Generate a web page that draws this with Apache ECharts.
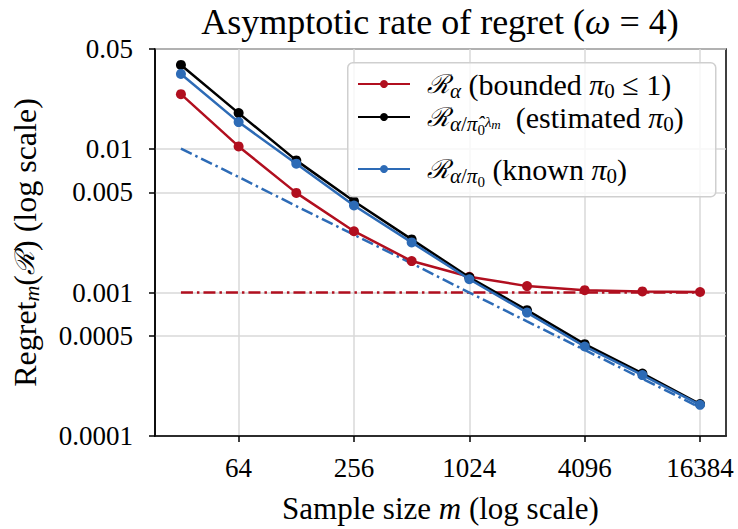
<!DOCTYPE html>
<html>
<head>
<meta charset="utf-8">
<script src="https://cdn.jsdelivr.net/npm/echarts@6/dist/echarts.min.js"></script>
<style>html,body{margin:0;padding:0;background:#fff}#c{width:738px;height:529px}</style>
</head>
<body>
<div id="c"></div>
<script>
// ---- data ----
const sampleSizes = [32, 64, 128, 256, 512, 1024, 2048, 4096, 8192, 16384];
const regretBounded   = [0.0242, 0.01046, 0.00496, 0.00268, 0.00166, 0.00129, 0.00111, 0.00104, 0.00102, 0.00101];
const regretEstimated = [0.0387, 0.01786, 0.00836, 0.00434, 0.00235, 0.00128, 0.000754, 0.000437, 0.000273, 0.000167];
const regretKnown     = [0.0335, 0.01546, 0.00793, 0.00405, 0.00224, 0.00124, 0.000726, 0.000421, 0.000266, 0.000165];
const refBounded      = [0.001, 0.001, 0.001, 0.001, 0.001, 0.001, 0.001, 0.001, 0.001, 0.001];
const refKnown        = [0.0101, 0.0064, 0.00401, 0.00253, 0.0016, 0.001, 0.00063, 0.000398, 0.000251, 0.000158];
const xTickValues = [64, 256, 1024, 4096, 16384];
const yTickValues = [0.0001, 0.0005, 0.001, 0.005, 0.01, 0.05];
const yTickLabels = ['0.0001', '0.0005', '0.001', '0.005', '0.01', '0.05'];
const seriesNames = ['bounded', 'estimated', 'known'];

const RED = '#b10f1f', BLUE = '#2d6bb6', BLACK = '#000000';
const F = "'Liberation Serif', 'DejaVu Serif', serif";
const pairs = ys => sampleSizes.map((m, i) => [m, ys[i]]);

const rich = {
  t:   {fontFamily: F, fontSize: 30, color: '#000'},
  R:   {fontFamily: "'DejaVu Serif', serif", fontSize: 26, fontStyle: 'italic', color: '#000'},
  it:  {fontFamily: F, fontSize: 30, fontStyle: 'italic', color: '#000'},
  sub: {fontFamily: F, fontSize: 21, fontStyle: 'italic', color: '#000', padding: [13, 0, 0, 0]},
  subr:{fontFamily: F, fontSize: 21, color: '#000', padding: [13, 0, 0, 0]},
  ss:  {fontFamily: F, fontSize: 15, color: '#000', padding: [26, 0, 0, 0]},
  sup: {fontFamily: F, fontSize: 15, fontStyle: 'italic', color: '#000', padding: [9, 0, 0, 0]},
  supm:{fontFamily: F, fontSize: 13, fontStyle: 'italic', color: '#000', padding: [15, 0, 0, 0]},
  gap: {width: 12}
};
const legendText = {
  bounded:   '{gap|}{R|ℛ}{sub|α}{t| (bounded }{it|π}{subr|0}{t| ≤ 1)}',
  estimated: '{gap|}{R|ℛ}{sub|α}{subr|/}{sub|π̂}{ss|0}{sup|λ}{supm|m}{t|  (estimated }{it|π}{subr|0}{t|)}',
  known:     '{gap|}{R|ℛ}{sub|α}{subr|/}{sub|π}{ss|0}{t| (known }{it|π}{subr|0}{t|)}'
};
const legendTops = [69, 102, 154];

const chart = echarts.init(document.getElementById('c'), null, {renderer: 'svg'});
chart.setOption({
  animation: false,
  backgroundColor: '#fff',
  graphic: [
    {
      type: 'text', x: 440, y: 22, z: 50,
      style: {
        text: '{t|Asymptotic rate of regret (}{w|ω}{t| = 4)}',
        align: 'center', verticalAlign: 'middle',
        rich: {
          t: {fontFamily: F, fontSize: 36, color: '#000'},
          w: {fontFamily: F, fontSize: 36, fontStyle: 'italic', color: '#000'}
        }
      }
    },
    {
      type: 'rect', z: 50, left: 347, top: 62,
      shape: {width: 368, height: 134, r: 5},
      style: {fill: 'rgba(255,255,255,0.8)', stroke: '#cfcfcf', lineWidth: 1.5}
    }
  ],
  grid: {left: 155, right: 12, top: 49, bottom: 92, show: true, borderColor: '#000', borderWidth: 1.5, backgroundColor: 'transparent'},
  legend: seriesNames.map((n, i) => ({
    data: [n], z: 60,
    orient: 'vertical', left: 357, top: legendTops[i], padding: 0,
    itemWidth: 52, itemHeight: 10,
    formatter: name => legendText[name],
    textStyle: {rich: rich, fontFamily: F, fontSize: 30, color: '#000'}
  })),
  xAxis: {
    type: 'log', logBase: 2, min: 23.43, max: 22378,
    name: '{t|Sample size }{it|m}{t| (log scale)}',
    nameLocation: 'middle', nameGap: 57,
    nameTextStyle: {rich: {
      t: {fontFamily: F, fontSize: 31, color: '#000'},
      it: {fontFamily: F, fontSize: 31, fontStyle: 'italic', color: '#000'}
    }},
    axisLine: {show: true, onZero: false, lineStyle: {color: '#000', width: 1.5}},
    axisTick: {show: true, length: 6, inside: false, customValues: xTickValues, lineStyle: {color: '#000', width: 1.5}},
    axisLabel: {customValues: xTickValues, fontFamily: F, fontSize: 27, color: '#000', margin: 18,
      formatter: v => String(Math.round(v))},
    splitLine: {show: true, lineStyle: {color: '#d9d9d9', width: 1.5}},
    minorTick: {show: false}, minorSplitLine: {show: false}
  },
  yAxis: {
    type: 'log', logBase: 10, min: 0.0001, max: 0.05,
    name: '{t|Regret}{sub|m}{t|(}{R|ℛ}{t|) (log scale)}',
    nameLocation: 'middle', nameGap: 113, nameRotate: 90,
    nameTextStyle: {rich: {
      t: {fontFamily: F, fontSize: 32, color: '#000'},
      sub: {fontFamily: F, fontSize: 22, fontStyle: 'italic', color: '#000', padding: [13, 0, 0, 0]},
      R: {fontFamily: "'DejaVu Serif', serif", fontSize: 27, fontStyle: 'italic', color: '#000'}
    }},
    axisLine: {show: true, lineStyle: {color: '#000', width: 1.5}},
    axisTick: {show: true, length: 6, customValues: yTickValues, lineStyle: {color: '#000', width: 1.5}},
    axisLabel: {customValues: yTickValues, fontFamily: F, fontSize: 27, color: '#000', margin: 22,
      formatter: v => {
        let best = 0;
        yTickValues.forEach((t, i) => { if (Math.abs(Math.log10(t) - Math.log10(v)) < Math.abs(Math.log10(yTickValues[best]) - Math.log10(v))) best = i; });
        return yTickLabels[best];
      }},
    splitLine: {show: true, lineStyle: {color: '#d9d9d9', width: 1.5}},
    minorTick: {show: false}, minorSplitLine: {show: false}
  },
  series: [
    {name: 'refBounded', type: 'line', data: pairs(refBounded), symbol: 'none', silent: true, z: 2,
      lineStyle: {color: RED, width: 2.5, type: [12, 4, 2.5, 4]}},
    {name: 'refKnown', type: 'line', data: pairs(refKnown), symbol: 'none', silent: true, z: 2,
      lineStyle: {color: BLUE, width: 2.5, type: [12, 4, 2.5, 4]}},
    {name: 'bounded', type: 'line', data: pairs(regretBounded), symbol: 'circle', symbolSize: 10, z: 3,
      lineStyle: {color: RED, width: 2.5}, itemStyle: {color: RED}},
    {name: 'estimated', type: 'line', data: pairs(regretEstimated), symbol: 'circle', symbolSize: 10, z: 4,
      lineStyle: {color: BLACK, width: 2.5}, itemStyle: {color: BLACK}},
    {name: 'known', type: 'line', data: pairs(regretKnown), symbol: 'circle', symbolSize: 10, z: 5,
      lineStyle: {color: BLUE, width: 2.5}, itemStyle: {color: BLUE}}
  ]
});
</script>
</body>
</html>
